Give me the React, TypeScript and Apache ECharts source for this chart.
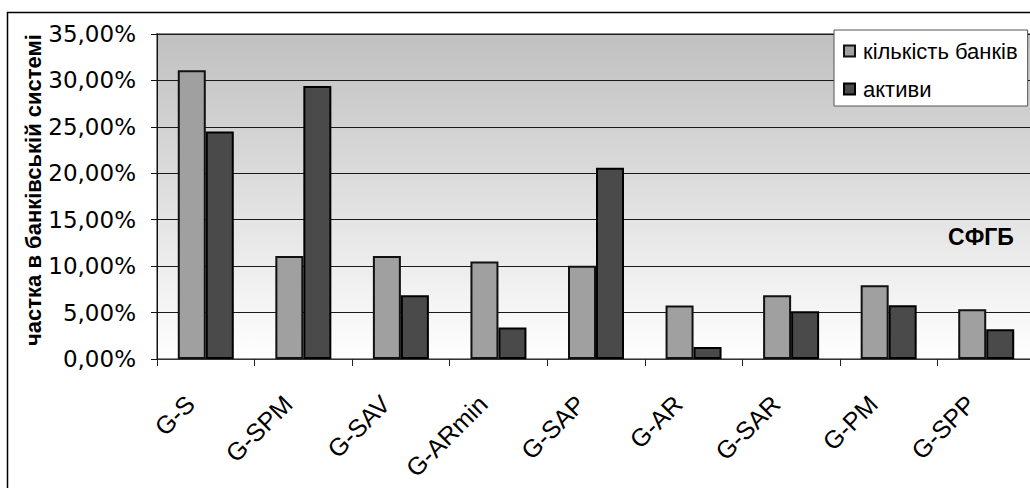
import React, { useEffect, useRef } from "react";
import * as echarts from "echarts";

// Banking-group categories along the horizontal axis
const categories = ["G-S", "G-SPM", "G-SAV", "G-ARmin", "G-SAP", "G-AR", "G-SAR", "G-PM", "G-SPP"];

// Share of banks in each group (fraction of the banking system)
const bankCount = [0.311, 0.111, 0.111, 0.105, 0.1005, 0.0575, 0.0686, 0.0794, 0.0536];

// Share of assets held by each group
const assets = [0.245, 0.294, 0.0686, 0.034, 0.206, 0.013, 0.0514, 0.0579, 0.032];

const seriesNames = ["кількість банків", "активи"];
const seriesColors = ["#a0a0a0", "#4a4a4a"];

const yAxisTitle = "частка в банківській системі";
const fundLabel = "СФГБ";

const yMin = 0;
const yMax = 0.35;
const yStep = 0.05;

const SANS = "'Liberation Sans', Arial, sans-serif";
const WIDE = "'DejaVu Sans', Verdana, sans-serif";

const formatPercent = (v: number) => (v * 100).toFixed(2).replace(".", ",") + "%";

export default function App() {
  const ref = useRef<HTMLDivElement>(null);

  useEffect(() => {
    if (!ref.current) return;
    const chart = echarts.init(ref.current, undefined, { renderer: "svg" });

    chart.setOption({
      animation: false,
      backgroundColor: "#ffffff",
      grid: {
        left: 157,
        top: 34,
        width: 878,
        height: 325,
        show: true,
        borderWidth: 2,
        borderColor: "#8a8a8a",
        backgroundColor: {
          type: "linear",
          x: 0,
          y: 0,
          x2: 0,
          y2: 1,
          colorStops: [
            { offset: 0, color: "#c0c0c0" },
            { offset: 1, color: "#ffffff" },
          ],
        },
      },
      legend: {
        left: 834,
        top: 30,
        orient: "vertical",
        icon: "rect",
        itemWidth: 11,
        itemHeight: 11,
        itemGap: 16,
        padding: [10, 10, 6, 9],
        backgroundColor: "#ffffff",
        borderColor: "#555555",
        borderWidth: 1,
        textStyle: {
          fontFamily: SANS,
          fontSize: 22,
          color: "#000",
          padding: [0, 0, 0, 3],
        },
        data: seriesNames,
      },
      xAxis: {
        type: "category",
        data: categories,
        axisLine: { show: true, lineStyle: { color: "#333", width: 1 } },
        axisTick: { show: true, alignWithLabel: false, length: 7, lineStyle: { color: "#222" } },
        splitLine: { show: false },
        axisLabel: {
          interval: 0,
          rotate: 45,
          margin: 25,
          padding: [0, 22, 0, 0],
          fontFamily: SANS,
          fontSize: 25,
          color: "#000",
        },
      },
      yAxis: {
        type: "value",
        min: yMin,
        max: yMax,
        interval: yStep,
        axisLine: { show: true, lineStyle: { color: "#111", width: 1 } },
        axisTick: { show: true, length: 6, lineStyle: { color: "#111" } },
        splitLine: { show: true, lineStyle: { color: "#1a1a1a", width: 1 } },
        axisLabel: {
          margin: 21,
          fontFamily: WIDE,
          fontSize: 23,
          color: "#000",
          formatter: formatPercent,
        },
      },
      series: [
        {
          name: seriesNames[0],
          type: "bar",
          data: bankCount,
          barGap: "0%",
          barCategoryGap: "42.6%",
          itemStyle: { color: seriesColors[0], borderColor: "#111", borderWidth: 2 },
        },
        {
          name: seriesNames[1],
          type: "bar",
          data: assets,
          barGap: "0%",
          barCategoryGap: "42.6%",
          itemStyle: { color: seriesColors[1], borderColor: "#000", borderWidth: 2 },
        },
      ],
      graphic: [
        {
          type: "rect",
          silent: true,
          z: 100,
          shape: { x: 7.5, y: 12.5, width: 1100, height: 600 },
          style: { fill: "none", stroke: "#000", lineWidth: 1.5 },
        },
        {
          type: "text",
          x: 33,
          y: 190,
          rotation: Math.PI / 2,
          style: {
            text: yAxisTitle,
            font: `bold 22px ${SANS}`,
            fill: "#000",
            textAlign: "center",
            textVerticalAlign: "middle",
          },
        },
        {
          type: "text",
          x: 981,
          y: 237,
          z: 50,
          style: {
            text: fundLabel,
            font: `bold 23px ${SANS}`,
            fill: "#000",
            textAlign: "center",
            textVerticalAlign: "middle",
          },
        },
      ],
    });

    return () => {
      chart.dispose();
    };
  }, []);

  return (
    <div
      ref={ref}
      style={{ position: "fixed", left: 0, top: 0, width: 1060, height: 488 }}
    />
  );
}
